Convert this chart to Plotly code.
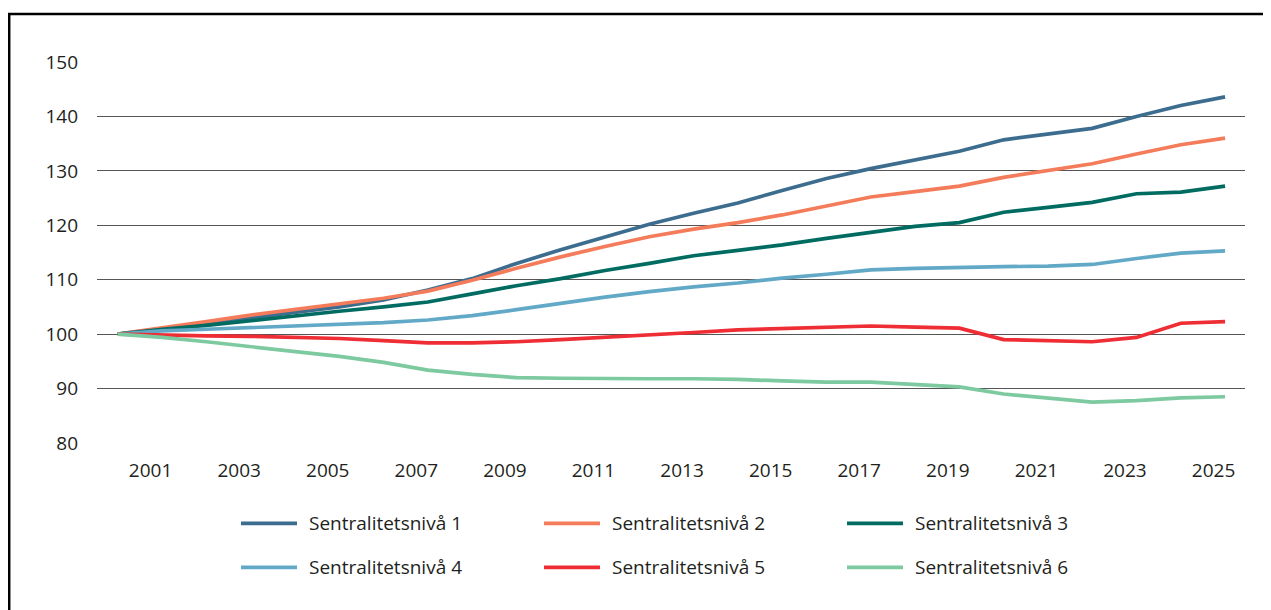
import plotly.graph_objects as go

# Index, 2000 = 100
years = list(range(2000, 2026))

niva_1 = [100, 101.0, 101.9, 103.0, 104.0, 105.0, 106.3, 108.1, 110.2, 113.0, 115.5, 117.8, 120.2,
          122.2, 124.1, 126.4, 128.6, 130.4, 132.0, 133.6, 135.7, 136.7, 137.8, 140.0, 142.0, 143.6]
niva_2 = [100, 101.1, 102.3, 103.5, 104.5, 105.5, 106.6, 107.9, 109.9, 112.1, 114.2, 116.1, 117.9,
          119.3, 120.5, 121.9, 123.6, 125.2, 126.2, 127.2, 128.8, 130.1, 131.3, 133.1, 134.8, 136.0]
niva_3 = [100, 100.9, 101.6, 102.5, 103.4, 104.2, 105.0, 105.9, 107.4, 108.9, 110.2, 111.7, 113.0,
          114.4, 115.4, 116.4, 117.6, 118.7, 119.8, 120.5, 122.4, 123.3, 124.2, 125.8, 126.1, 127.2]
niva_4 = [100, 100.6, 100.9, 101.2, 101.5, 101.8, 102.1, 102.6, 103.4, 104.5, 105.7, 106.8, 107.8,
          108.7, 109.4, 110.3, 111.0, 111.8, 112.1, 112.3, 112.4, 112.5, 112.8, 113.9, 114.9, 115.3]
niva_5 = [100, 99.8, 99.7, 99.6, 99.45, 99.2, 98.8, 98.4, 98.4, 98.6, 99.0, 99.4, 99.9,
          100.3, 100.8, 101.0, 101.2, 101.5, 101.3, 101.1, 99.0, 98.8, 98.6, 99.4, 102.0, 102.3]
niva_6 = [100, 99.4, 98.6, 97.7, 96.8, 95.9, 94.8, 93.4, 92.6, 92.0, 91.9, 91.8, 91.8,
          91.8, 91.7, 91.4, 91.2, 91.2, 90.8, 90.3, 89.0, 88.2, 87.5, 87.8, 88.3, 88.5]

names = ["Sentralitetsnivå 1", "Sentralitetsnivå 2", "Sentralitetsnivå 3",
         "Sentralitetsnivå 4", "Sentralitetsnivå 5", "Sentralitetsnivå 6"]
series = [niva_1, niva_2, niva_3, niva_4, niva_5, niva_6]
colors = ["#3C6D8F", "#F47C5B", "#006C61", "#62A9C7", "#EE2D35", "#7DC9A0"]

tick_years = list(range(2001, 2026, 2))
y_ticks = [80, 90, 100, 110, 120, 130, 140, 150]

# page puts the figure 8px in from the window corner, so keep it inside the window
OFF = 8
W, H = 1271 - OFF, 610 - OFF
L, R, T, B = 97 - OFF, W - (1245 - OFF), 62 - OFF, H - (443.5 - OFF)
FONT = "Open Sans"
TEXT = "#231F20"


def px_x(p):
    return (p - OFF - L) / (W - L - R)


def px_y(p):
    return (H - B - (p - OFF)) / (H - T - B)


fig = go.Figure()
for name, vals, col in zip(names, series, colors):
    fig.add_trace(go.Scatter(x=years, y=vals, name=name, mode="lines",
                             line=dict(color=col, width=3.7), showlegend=False))

# legend drawn by hand: 3 columns x 2 rows with long line keys
shapes = []
annotations = []
for i, (name, col) in enumerate(zip(names, colors)):
    x0 = 241 + 303 * (i % 3)
    yy = 524 + 44 * (i // 3)
    shapes.append(dict(type="line", xref="paper", yref="paper",
                       x0=px_x(x0), x1=px_x(x0 + 56), y0=px_y(yy), y1=px_y(yy),
                       line=dict(color=col, width=3.7)))
    annotations.append(dict(text=name, xref="paper", yref="paper", x=px_x(x0 + 66), y=px_y(yy),
                            xanchor="left", yanchor="middle", showarrow=False,
                            font=dict(family=FONT, size=19, color=TEXT)))

# frame around the figure
shapes.append(dict(type="rect", xref="paper", yref="paper",
                   x0=px_x(9.2), x1=px_x(1267), y0=px_y(640), y1=px_y(14),
                   line=dict(color="black", width=2.5), fillcolor="rgba(0,0,0,0)", layer="above"))

fig.update_layout(
    width=W, height=H,
    margin=dict(l=L, r=R, t=T, b=B),
    paper_bgcolor="white", plot_bgcolor="white",
    font=dict(family=FONT, size=19, color=TEXT),
    shapes=shapes, annotations=annotations,
    xaxis=dict(range=[1999.53, 2025.45], tickvals=[y - 0.26 for y in tick_years],
               ticktext=[str(y) for y in tick_years], showgrid=False, zeroline=False,
               showline=False, ticks="", ticklabelstandoff=14),
    yaxis=dict(range=[80, 150], tickvals=y_ticks, showgrid=True, gridcolor="#555555",
               gridwidth=1, zeroline=False, showline=False, ticks="", ticklabelstandoff=18),
)

fig.write_html("out.html")
